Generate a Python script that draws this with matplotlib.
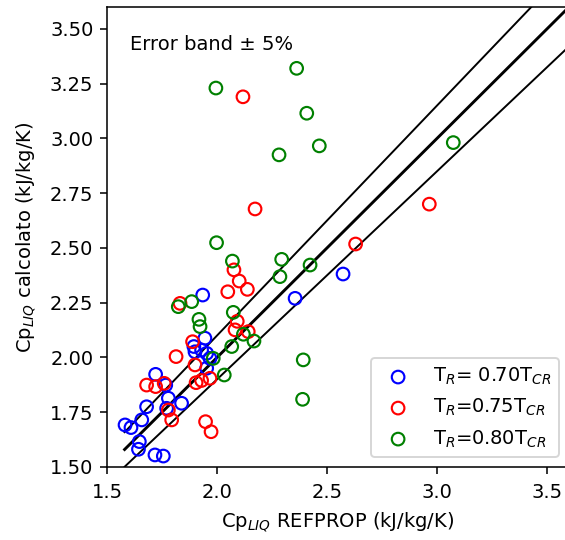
import matplotlib
matplotlib.use("Agg")
import matplotlib.pyplot as plt
import numpy as np

# Data
x_070 = [2.573, 2.355, 1.935, 1.945, 1.895, 1.900, 1.930, 1.953, 1.968, 1.953,
         1.721, 1.767, 1.779, 1.839, 1.680, 1.771, 1.658, 1.582, 1.609, 1.647,
         1.643, 1.718, 1.756]
y_070 = [2.381, 2.270, 2.285, 2.088, 2.050, 2.026, 2.034, 2.019, 1.996, 1.951,
         1.923, 1.874, 1.814, 1.791, 1.775, 1.768, 1.715, 1.692, 1.680, 1.616,
         1.581, 1.555, 1.550]

x_075 = [2.118, 2.173, 2.965, 2.630, 2.077, 2.101, 2.138, 2.049, 1.832, 2.092,
         2.082, 2.142, 1.889, 1.814, 1.900, 1.968, 1.905, 1.930, 1.680, 1.721,
         1.760, 1.779, 1.794, 1.948, 1.973]
y_075 = [3.190, 2.678, 2.700, 2.518, 2.400, 2.349, 2.311, 2.300, 2.247, 2.165,
         2.126, 2.118, 2.072, 2.004, 1.966, 1.905, 1.885, 1.895, 1.874, 1.867,
         1.882, 1.760, 1.715, 1.707, 1.661]

x_080 = [2.362, 1.995, 2.408, 3.074, 2.465, 2.282, 1.998, 2.070, 2.294, 2.423,
         2.286, 1.885, 1.824, 2.074, 1.918, 1.923, 2.120, 2.168, 2.067, 1.983,
         2.033, 2.392, 2.389]
y_080 = [3.320, 3.230, 3.115, 2.981, 2.966, 2.925, 2.524, 2.440, 2.448, 2.422,
         2.369, 2.255, 2.232, 2.206, 2.174, 2.141, 2.106, 2.075, 2.050, 1.996,
         1.920, 1.989, 1.809]

labels = ["T$_R$= 0.70T$_{CR}$", "T$_R$=0.75T$_{CR}$", "T$_R$=0.80T$_{CR}$"]
colors = ["blue", "red", "green"]

band_x = [1.58, 3.62]
band = 0.05

xticks = [1.5, 2.0, 2.5, 3.0, 3.5]
yticks = [1.50, 1.75, 2.00, 2.25, 2.50, 2.75, 3.00, 3.25, 3.50]

dpi = 140
fig = plt.figure(figsize=(565 / dpi, 540 / dpi), dpi=dpi)
ax = fig.add_axes([107 / 565, 73 / 540, 462 / 565, 460 / 540])

bx = np.array(band_x)
ax.plot(bx, bx * (1 + band), color="black", lw=1.0)
ax.plot(bx, bx, color="black", lw=1.5)
ax.plot(bx, bx * (1 - band), color="black", lw=1.0)

for xs, ys, c, lab in zip([x_070, x_075, x_080], [y_070, y_075, y_080], colors, labels):
    ax.scatter(xs, ys, s=42, facecolors="none", edgecolors=c, linewidths=1.1, label=lab, zorder=3)

ax.text(1.605, 3.427, "Error band \u00b1 5%", va="center", ha="left", fontsize=10)

ax.set_xlim(1.5, 3.6)
ax.set_ylim(1.5, 3.6)
ax.set_xticks(xticks)
ax.set_yticks(yticks)
ax.set_xticklabels([f"{v:.1f}" for v in xticks])
ax.set_yticklabels([f"{v:.2f}" for v in yticks])
ax.tick_params(axis="x", pad=4.5)
ax.set_xlabel("Cp$_{LIQ}$ REFPROP (kJ/kg/K)", labelpad=5)
ax.set_ylabel("Cp$_{LIQ}$ calcolato (kJ/kg/K)", labelpad=6)
ax.legend(loc="lower right")

fig.savefig("out.png", dpi=dpi)
